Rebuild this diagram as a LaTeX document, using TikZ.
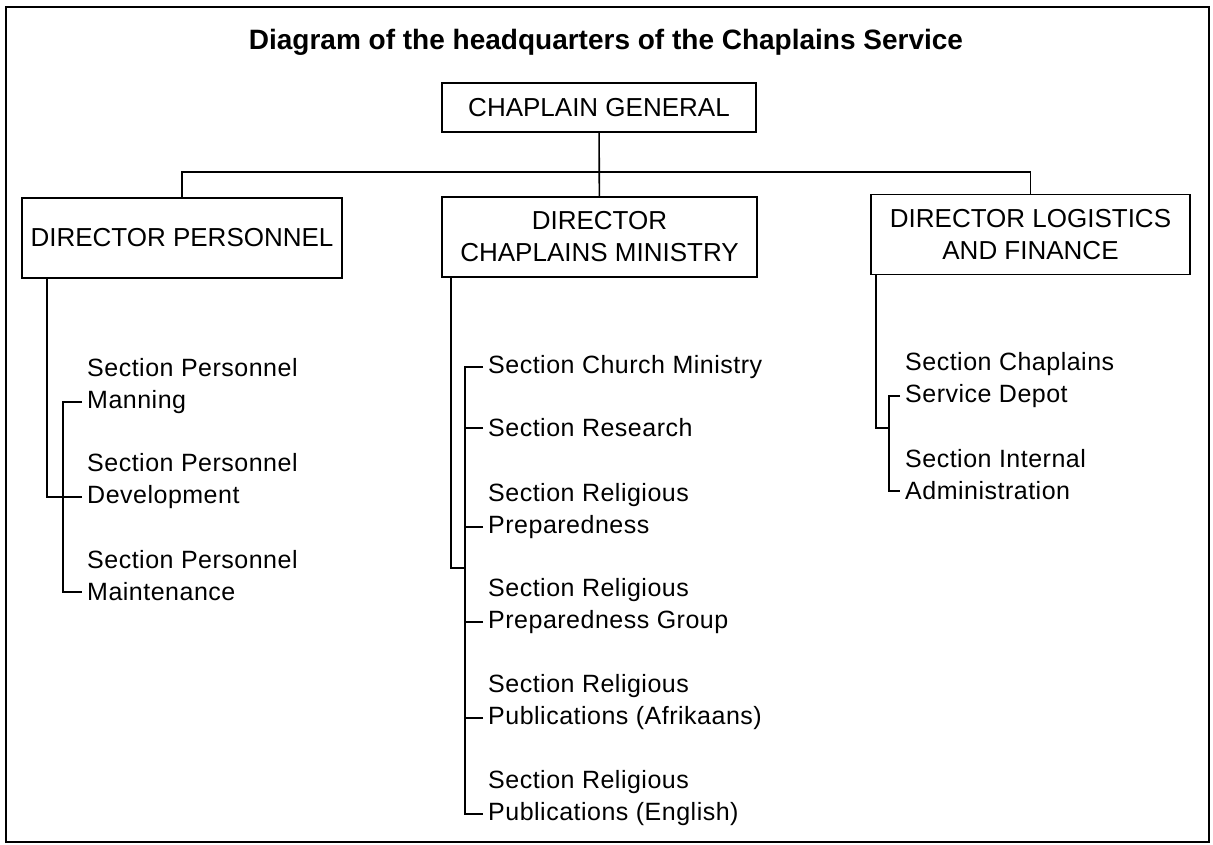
\documentclass[tikz,border=0pt]{standalone}
\usepackage{fontspec}
\setmainfont{Liberation Sans}
\newfontfamily\sectfamily{Liberation Sans}[LetterSpace=2]

\begin{document}
\begin{tikzpicture}[x=1pt,y=-1pt,
    box/.style={draw,line width=1.8pt,align=center,inner sep=0pt,
      font=\fontsize{26}{32}\selectfont},
    sect/.style={anchor=west,align=left,inner xsep=5pt,inner ysep=0pt,
      font=\sectfamily\fontsize{25}{32}\selectfont},
    link/.style={line width=1.6pt}]
  \useasboundingbox (0,0) rectangle (1213,845);
  \draw[line width=2.5pt] (6,7) rectangle (1209,842);
  \node[anchor=base,font=\bfseries\fontsize{28}{34}\selectfont] (title)
    at (606,50) {Diagram of the headquarters of the Chaplains Service};
  % top of the tree
  \node[box,minimum width=314pt,minimum height=49pt] (cg) at (599,107.5)
    {CHAPLAIN GENERAL};
  \node[box,minimum width=320pt,minimum height=80pt] (dp) at (182,238)
    {DIRECTOR PERSONNEL};
  \node[box,minimum width=315pt,minimum height=80pt] (dcm) at (599.5,237)
    {DIRECTOR\\CHAPLAINS MINISTRY};
  \node[box,minimum width=319pt,minimum height=80pt] (dlf) at (1030.5,234.5)
    {DIRECTOR LOGISTICS\\AND FINANCE};
  \coordinate (bar) at (599,172);
  \draw[link] (cg) -- (dcm);
  \draw[link] (dp.north) |- (bar) -| (dlf.north);
  % personnel
  \node[sect] (pm) at (82,386) {Section Personnel\\Manning};
  \node[sect] (pd) at (82,481) {Section Personnel\\Development};
  \node[sect] (pmt) at (82,576) {Section Personnel\\Maintenance};
  \draw[link] ([yshift=-16pt]pm.west) -- ++(-19,0) |- ([yshift=-16pt]pmt.west);
  \draw[link] ([yshift=-16pt]pd.west) -- ++(-19,0);
  \draw[link] ([xshift=26pt]dp.south west) |- ([xshift=-19pt,yshift=-16pt]pd.west);
  % chaplains ministry
  \node[sect] (scm) at (483,367) {Section Church Ministry};
  \node[sect] (sr) at (483,428) {Section Research};
  \node[sect] (srp) at (483,511) {Section Religious\\Preparedness};
  \node[sect] (srpg) at (483,606) {Section Religious\\Preparedness Group};
  \node[sect] (srpa) at (483,702) {Section Religious\\Publications (Afrikaans)};
  \node[sect] (srpe) at (483,798) {Section Religious\\Publications (English)};
  \draw[link] (scm.west) -- ++(-18,0) |- ([yshift=-16pt]srpe.west);
  \draw[link] (sr.west) -- ++(-18,0);
  \draw[link] ([yshift=-16pt]srp.west) -- ++(-18,0);
  \draw[link] ([yshift=-16pt]srpg.west) -- ++(-18,0);
  \draw[link] ([yshift=-16pt]srpa.west) -- ++(-18,0);
  \coordinate (mj) at (465,568);
  \draw[link] ([xshift=10pt]dcm.south west) |- (mj);
  % logistics and finance
  \node[sect] (scsd) at (900,380) {Section Chaplains\\Service Depot};
  \node[sect] (sia) at (900,475) {Section Internal\\Administration};
  \draw[link] ([yshift=-16pt]scsd.west) -- ++(-11,0) |- ([yshift=-16pt]sia.west);
  \coordinate (rj) at (889,428);
  \draw[link] ([xshift=6pt]dlf.south west) |- (rj);
\end{tikzpicture}
\end{document}
